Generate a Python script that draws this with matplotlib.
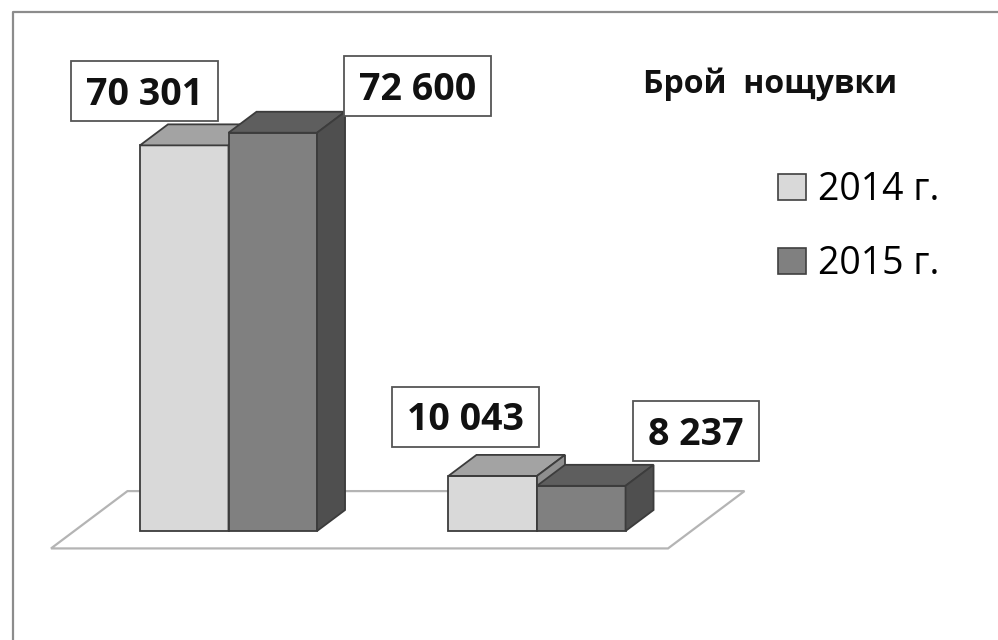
import matplotlib
matplotlib.use('Agg')
import matplotlib.pyplot as plt
from matplotlib.patches import Polygon, Rectangle, Patch
from matplotlib.lines import Line2D
from matplotlib.transforms import IdentityTransform

# data
groups = ['', '']  # category names are not shown on the chart
series = ['2014 г.', '2015 г.']
values_2014 = [70301, 10043]
values_2015 = [72600, 8237]
legend_title = 'Брой  нощувки'

plt.rcParams['font.family'] = ['Open Sans', 'DejaVu Sans']

# styles: front, top, side
series_colors = [
    ('#d9d9d9', '#a3a3a3', '#8f8f8f'),
    ('#808080', '#5e5e5e', '#4f4f4f'),
]
edge = '#3c3c3c'

BAR_W = 0.287
DX = 28 / 308.5      # depth offset in x units
DY = 21 * 182.3      # depth offset in value units

# label box offsets from the bar top (pixels, y up), hand placed like in the original
label_offsets = [
    [(-39.5, 54), (-27, 59)],
    [(144.5, 46.5), (114.5, 54.5)],
]
LABEL_PT = 27
CAP = 0.714 * LABEL_PT * 100 / 72
BOX_H = 60
PAD_X = 15

fig = plt.figure(figsize=(9.98, 6.4), dpi=100)
ax = fig.add_axes([0, 0, 1, 1])
ax.set_xlim(-0.7407, 2.4943)
ax.set_ylim(-19870, 96800)
ax.axis('off')

# floor
fx0, fx1 = -0.5, len(groups) - 0.5
d0, d1 = -0.83, 1.9
floor = Polygon([(fx0 + d0 * DX, d0 * DY), (fx1 + d0 * DX, d0 * DY),
                 (fx1 + d1 * DX, d1 * DY), (fx0 + d1 * DX, d1 * DY)],
                closed=True, fc='white', ec='#b4b4b4', lw=1.6, zorder=1)
ax.add_patch(floor)


def draw_bar(x0, h, colors):
    front, top, side = colors
    x1 = x0 + BAR_W
    kw = dict(closed=True, ec=edge, lw=1.3, joinstyle='miter', zorder=2)
    ax.add_patch(Polygon([(x0, 0), (x1, 0), (x1, h), (x0, h)], fc=front, **kw))
    ax.add_patch(Polygon([(x0, h), (x1, h), (x1 + DX, h + DY), (x0 + DX, h + DY)], fc=top, **kw))
    ax.add_patch(Polygon([(x1, 0), (x1 + DX, DY), (x1 + DX, h + DY), (x1, h)], fc=side, **kw))


all_values = [values_2014, values_2015]
bars = []
for g in range(len(groups)):
    for s, vals in enumerate(all_values):
        x0 = g - BAR_W + s * BAR_W
        draw_bar(x0, vals[g], series_colors[s])
        bars.append((x0 + BAR_W / 2, vals[g], label_offsets[s][g]))

renderer = fig.canvas.get_renderer()
for cx, h, (ox, oy) in bars:
    px, py = ax.transData.transform((cx, h))
    bx, by = px + ox, py + oy
    txt = f'{h:,}'.replace(',', ' ')
    t = ax.text(bx, by - CAP / 2, txt, transform=IdentityTransform(),
                ha='center', va='baseline', fontsize=LABEL_PT, fontweight='bold',
                color='#111111', zorder=11)
    bb = t.get_window_extent(renderer)
    w = bb.width + 2 * PAD_X
    ax.add_artist(Rectangle((bx - w / 2, by - BOX_H / 2), w, BOX_H,
                            transform=IdentityTransform(), fc='white',
                            ec='#555555', lw=1.3, zorder=10))

# legend
handles = [Patch(fc=series_colors[i][0], ec='#404040', lw=1.2, label=s)
           for i, s in enumerate(series)]
fig.legend(handles=handles, loc='upper left', bbox_to_anchor=(778 / 998, 1 - 171 / 640),
           frameon=False, fontsize=27, handlelength=0.75, handleheight=0.7,
           handletextpad=0.33, labelspacing=0.97, borderpad=0, borderaxespad=0)
fig.text(643 / 998, 1 - 93 / 640, legend_title, fontsize=23, fontweight='bold',
         va='baseline', color='#111111')

# outer frame (left and top edges only are in view)
fig.add_artist(Line2D([13 / 998, 13 / 998, 1.0], [0.0, 1 - 12 / 640, 1 - 12 / 640],
                      transform=fig.transFigure, color='#8c8c8c', lw=1.6))

fig.savefig('out.png', dpi=100)
